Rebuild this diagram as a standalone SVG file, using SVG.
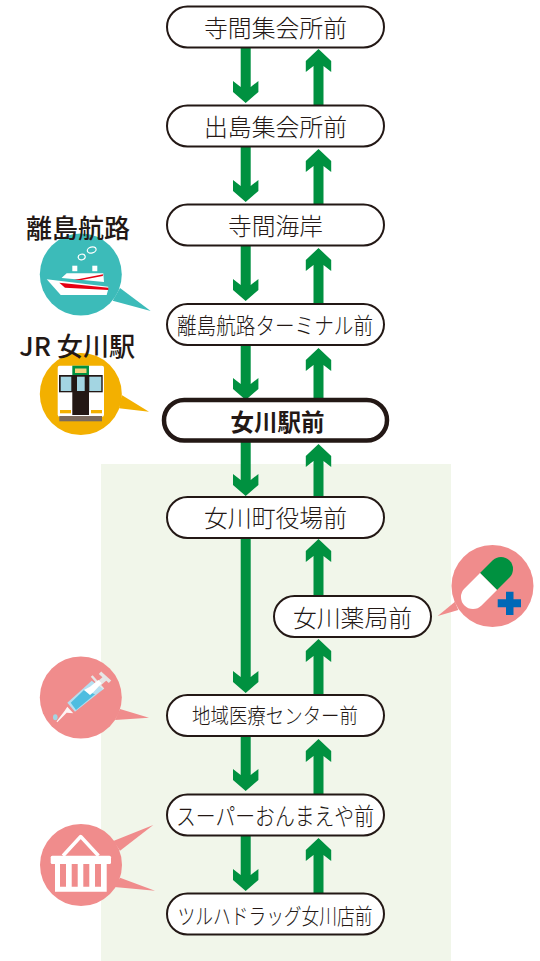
<svg xmlns="http://www.w3.org/2000/svg" width="540" height="961" viewBox="0 0 540 961">
<style>
text{font-family:"Noto Sans CJK JP","Noto Sans",sans-serif;fill:#231815;text-anchor:middle}
.n{fill:#fff;stroke:#231815;stroke-width:2}
.t{font-size:24px;font-weight:300}
.a{fill:#009140}
.lb{font-size:26px;font-weight:500}
.pk{fill:#f08c8c}
.w{fill:#fff}
</style>
<defs>
<path id="dn" d="M-5 0H5V39L12.700 33V44L0 55L-12.700 44V33L-5 39Z"/>
<path id="up" d="M-5 55H5V17L12.700 12V23L0 0L0 0L-12.700 12V23L-5 17Z"/>
<path id="up2" d="M-5 56H5V17L12.700 23V12L0 0L-12.700 12V23L-5 17Z"/>
</defs>
<rect x="101" y="464" width="350" height="497" fill="#f1f6ea"/>
<g id="connectors" class="a">
<use href="#dn" x="245.700" y="48"/><use href="#up2" x="318.500" y="49"/>
<use href="#dn" x="245.700" y="147"/><use href="#up2" x="318.500" y="149"/>
<use href="#dn" x="245.700" y="246"/><use href="#up2" x="318.500" y="248"/>
<use href="#dn" x="245.700" y="345"/><use href="#up2" x="318.500" y="348"/>
<use href="#dn" x="245.700" y="441"/><use href="#up2" x="318.500" y="444"/>
<path d="M240.700 538H250.700V677L258.400 671V682L245.700 693L233 682V671L240.700 677Z"/>
<use href="#up2" x="318.500" y="539"/>
<use href="#up2" x="318.500" y="639"/>
<use href="#dn" x="245.700" y="736"/><use href="#up2" x="318.500" y="739"/>
<use href="#dn" x="245.700" y="836"/><use href="#up2" x="318.500" y="838"/>
</g>
<g id="n1"><rect class="n" x="167" y="6.500" width="217" height="41" rx="20.500"/><text class="t" x="275.500" y="37" textLength="143" lengthAdjust="spacingAndGlyphs">寺間集会所前</text></g>
<g id="n2"><rect class="n" x="167" y="105.500" width="217" height="41" rx="20.500"/><text class="t" x="275.500" y="136" textLength="143" lengthAdjust="spacingAndGlyphs">出島集会所前</text></g>
<g id="n3"><rect class="n" x="167" y="204.500" width="217" height="41" rx="20.500"/><text class="t" x="275.500" y="235" textLength="95" lengthAdjust="spacingAndGlyphs">寺間海岸</text></g>
<g id="n4"><rect class="n" x="167" y="304" width="217" height="41" rx="20.500"/><text x="275" y="334" font-size="23" font-weight="300" textLength="196" lengthAdjust="spacingAndGlyphs">離島航路ターミナル前</text></g>
<g id="n5"><rect class="n" x="164" y="400" width="223" height="40.500" rx="20.200" style="stroke-width:4.500"/><text x="277.500" y="431" font-size="23.500" font-weight="700" textLength="94" lengthAdjust="spacingAndGlyphs">女川駅前</text></g>
<g id="n6"><rect class="n" x="167" y="497" width="217" height="41" rx="20.500"/><text class="t" x="275.500" y="527" textLength="143" lengthAdjust="spacingAndGlyphs">女川町役場前</text></g>
<g id="n7"><rect class="n" x="274" y="596" width="157" height="41" rx="20.500"/><text class="t" x="352.500" y="627" textLength="119" lengthAdjust="spacingAndGlyphs">女川薬局前</text></g>
<g id="n8"><rect class="n" x="167" y="695" width="217" height="41" rx="20.500"/><text x="275" y="723" font-size="21" font-weight="300" textLength="166" lengthAdjust="spacingAndGlyphs">地域医療センター前</text></g>
<g id="n9"><rect class="n" x="167" y="794.500" width="217" height="41" rx="20.500"/><text x="275" y="825" font-size="24" font-weight="300" textLength="198" lengthAdjust="spacingAndGlyphs">スーパーおんまえや前</text></g>
<g id="n10"><rect class="n" x="167" y="893.500" width="217" height="41" rx="20.500"/><text x="275" y="924" font-size="22" font-weight="300" textLength="195" lengthAdjust="spacingAndGlyphs">ツルハドラッグ女川店前</text></g>
<g id="ship">
<circle cx="80.800" cy="274.500" r="41" fill="#3cbbb9"/>
<path d="M120 288L150.700 311L112.700 300.700Z" fill="#3cbbb9"/>
<text class="lb" x="78" y="238" textLength="104" lengthAdjust="spacingAndGlyphs">離島航路</text>
<ellipse cx="91.700" cy="250" rx="4.500" ry="3" fill="none" stroke="#fff" stroke-width="1.200" transform="rotate(-15 91.700 250)"/>
<ellipse cx="81.700" cy="257" rx="3.500" ry="2.800" fill="none" stroke="#fff" stroke-width="1.200" transform="rotate(-15 81.700 257)"/>
<rect class="w" x="72.300" y="265.700" width="5" height="5.500"/><rect class="w" x="92.300" y="265.700" width="5" height="5.500"/>
<path class="w" d="M61.700 277.700L66.700 273.300H103.300L104 282L62 278Z"/>
<path class="w" d="M46.700 279.300L108.300 286.700L108 290L106.700 295H60.700Z"/>
<path d="M59.300 282.700L108.300 287.700V290L65 287.700Z" fill="#e60012"/>
<path d="M74 280L103.300 274.300L102.700 276L81.700 280Z" fill="#e60012"/>
</g>
<g id="train">
<circle cx="80.800" cy="394" r="41" fill="#f3b000"/>
<path d="M121.700 395L149 411.700L119 408.300Z" fill="#f3b000"/>
<text class="lb" x="77.300" y="356" textLength="116" lengthAdjust="spacingAndGlyphs">JR 女川駅</text>
<rect class="w" x="57.700" y="365.700" width="46.300" height="51" rx="2"/>
<rect x="72.300" y="365.700" width="16.700" height="9.300" fill="#009140"/>
<rect x="75" y="368.500" width="11.500" height="4.500" fill="#f3d37a"/>
<rect x="59" y="375" width="43.700" height="17.300" fill="#231815"/>
<rect x="60.700" y="376.700" width="10.600" height="14.300" fill="#a3d5e2"/><rect x="77" y="376.700" width="7.700" height="14.300" fill="#a3d5e2"/><rect x="89.300" y="376.700" width="12" height="14.300" fill="#a3d5e2"/>
<rect x="72.300" y="392" width="16.700" height="23" fill="#231815"/>
<rect x="60" y="410" width="11" height="3.300" fill="#f3b000"/><rect x="91" y="410" width="11" height="3.300" fill="#f3b000"/>
<rect x="59.300" y="416" width="42.700" height="5.300" fill="#7b6a5d"/>
</g>
<g id="syringe">
<circle class="pk" cx="80.800" cy="697.500" r="41"/>
<path class="pk" d="M120 709L149 717.700L115 720Z"/>
<path d="M97.300 685L105 678.300" stroke="#e6e6e6" stroke-width="5" fill="none"/>
<path d="M100 672.700L110 681.700" stroke="#e6e6e6" stroke-width="3.500" fill="none"/>
<path d="M91.700 676L103.300 689.300" stroke="#e6e6e6" stroke-width="2.500" fill="none"/>
<path d="M67.300 702.700L91.700 680.700L103.300 689.300L75 711.700Z" fill="#b5dff0"/>
<path d="M70.700 702.700L84 690L95 694.300L76 710Z" fill="#4fbde0"/>
<path d="M84 690L90 686.700L98.300 680L101.700 683.300L93.300 692.300L90 695Z" fill="#fff"/>
<path d="M67.300 706.700L73.300 713.300L66.700 712.700L57.300 722.300L56.500 721.500L64.500 711Z" fill="#fff" opacity=".9"/>
<ellipse cx="55.300" cy="717.300" rx="2.300" ry="3" fill="#a3d5e2"/>
</g>
<g id="basket">
<circle class="pk" cx="81" cy="865" r="41"/>
<path class="pk" d="M113.300 841L153.300 825L120 850.700Z"/>
<path class="pk" d="M120 877.700L155 890.700L114.300 887Z"/>
<path d="M63 855.700L80.700 836.500L98.500 855.700" fill="none" stroke="#fff" stroke-width="3.500" stroke-linejoin="round"/>
<rect class="w" x="50.700" y="855.700" width="60.300" height="8.300" rx="1.500"/>
<path class="w" d="M55 863H106.700V891.700H55ZM60 864V886.700H66V864ZM71.700 864V886.700H77.700V864ZM83.300 864V886.700H89.300V864ZM95 864V886.700H101V864Z" fill-rule="evenodd"/>
</g>
<g id="capsule">
<circle class="pk" cx="492.500" cy="586" r="41"/>
<path class="pk" d="M455 601.700L437.700 616L458.300 610Z"/>
<path d="M480 573L492.500 560.500A12 12 0 0 1 509.500 577.500L497 590Z" fill="#009140"/>
<path class="w" d="M480 573L464.500 588.500A12 12 0 0 0 481.500 605.500L497 590Z"/>
<path d="M506 591.700h7.500v7.600h7.500v8h-7.500v7.700h-7.500v-7.700h-8.300v-8h8.300Z" fill="#0068b7"/>
</g>
</svg>
